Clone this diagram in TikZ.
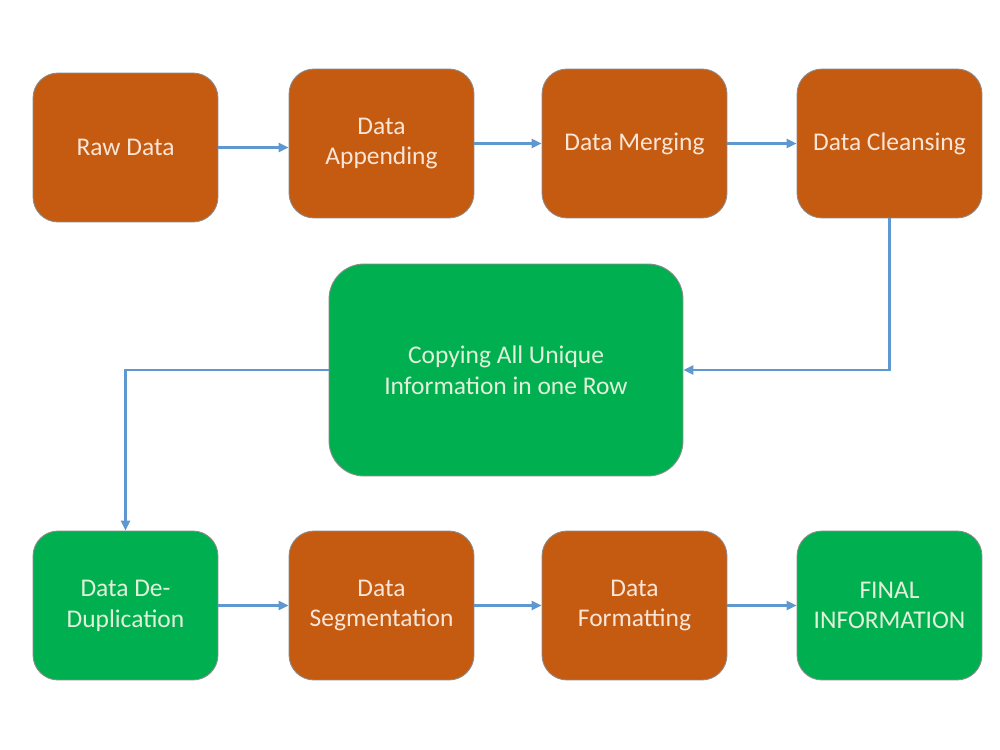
\documentclass[tikz,border=0pt]{standalone}
\usepackage{fontspec}
\setmainfont{Carlito}
\usetikzlibrary{arrows.meta}

\definecolor{rust}{HTML}{C55A11}
\definecolor{leaf}{HTML}{00B050}
\definecolor{wire}{HTML}{5F98CF}
\definecolor{cream}{HTML}{FBE5D6}
\definecolor{mint}{HTML}{E2F0D9}

\begin{document}
\begin{tikzpicture}[x=0.02cm,y=-0.02cm,
   stepbox/.style={rectangle,rounded corners=0.5cm,draw=black!45,line width=0.5pt,
      minimum width=3.7cm,minimum height=2.98cm,align=center,
      font=\fontsize{14.5}{17.5}\selectfont},
   rustbox/.style={stepbox,fill=rust,text=cream},
   leafbox/.style={stepbox,fill=leaf,text=mint}]
   \useasboundingbox (0,0) rectangle (1000,750);
   % top row
   \node[rustbox] (raw) at (125.5,147.5) {Raw Data};
   \node[rustbox] (append) at (381.5,143.5) {Data\\Appending};
   \node[rustbox] (merge) at (634.5,143.5) {Data Merging};
   \node[rustbox] (cleanse) at (889.5,143.5) {Data Cleansing};
   % middle
   \node[leafbox,minimum width=7.08cm,minimum height=4.24cm,rounded corners=0.7cm]
      (unique) at (506,370) {Copying All Unique\\Information in one Row};
   % bottom row
   \node[leafbox] (dedup) at (125.5,605.5) {Data De-\\Duplication};
   \node[rustbox] (segment) at (381.5,605.5) {Data\\Segmentation};
   \node[rustbox] (format) at (634.5,605.5) {Data\\Formatting};
   \node[leafbox] (final) at (889.5,605.5) {FINAL\\INFORMATION};
   \coordinate (bend) at (125.5,370);
   \begin{scope}[every edge/.style={draw=wire,line width=1.3pt,
         -{Triangle[length=0.2cm,width=0.18cm]}},
         wire/.style={draw=wire,line width=1.3pt,
         -{Triangle[length=0.2cm,width=0.18cm]}}]
    \draw (raw.east) edge (raw.east -| append.west);
    \draw (append) edge (merge);
    \draw (merge) edge (cleanse);
    \draw[wire] (cleanse.south) |- (unique.east);
    \draw[wire] (unique.west) -- (bend) -- (dedup.north);
    \draw (dedup) edge (segment);
    \draw (segment) edge (format);
    \draw (format) edge (final);
   \end{scope}
\end{tikzpicture}
\end{document}
